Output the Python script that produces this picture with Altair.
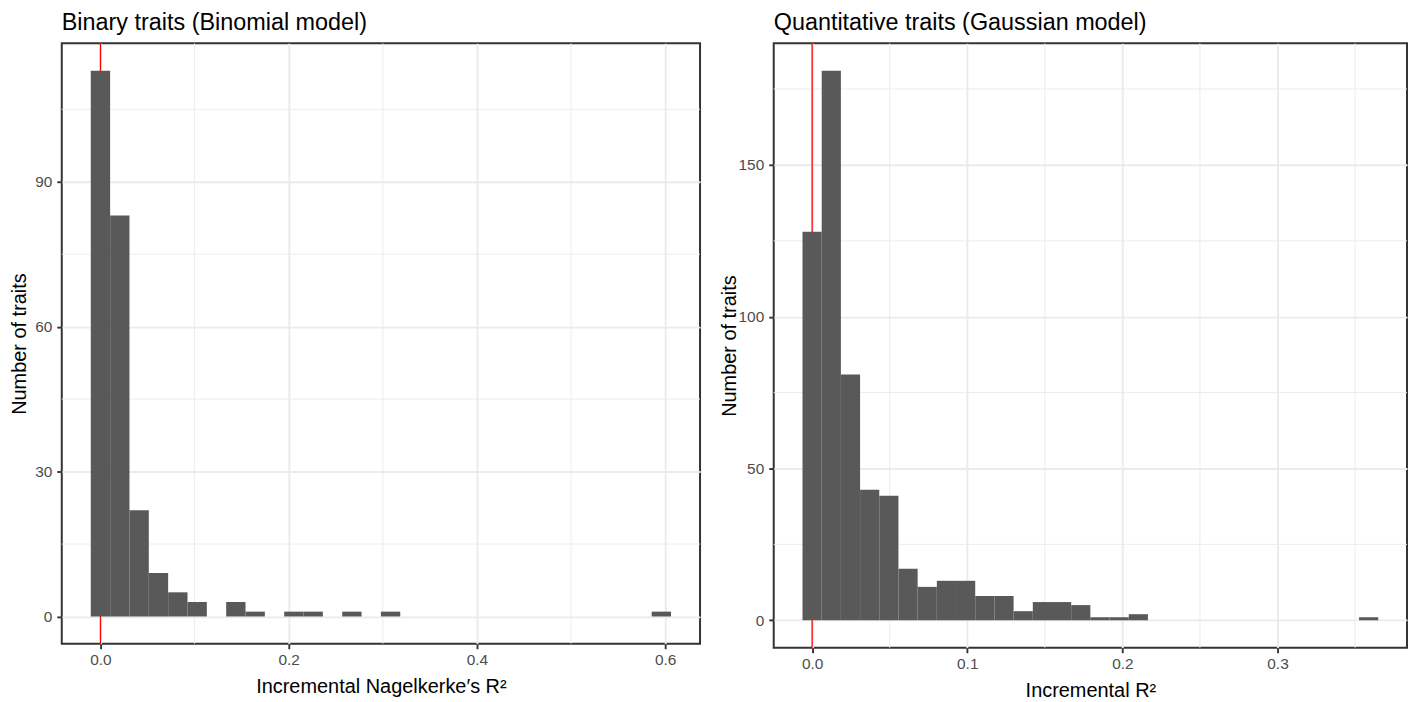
import altair as alt
import pandas as pd

# ---- data ----
binary_counts = [113, 83, 22, 9, 5, 3, 0, 3, 1, 0, 1, 1, 0, 1, 0, 1,
                 0, 0, 0, 0, 0, 0, 0, 0, 0, 0, 0, 0, 0, 1]
binary_binwidth = 0.02055
quant_counts = [128, 181, 81, 43, 41, 17, 11, 13, 13, 8, 8, 3, 6, 6, 5, 1, 1, 2,
                0, 0, 0, 0, 0, 0, 0, 0, 0, 0, 0, 1]
quant_binwidth = 0.01237

binary_xticks = [0.0, 0.2, 0.4, 0.6]
binary_xminor = [0.1, 0.3, 0.5]
binary_yticks = [0, 30, 60, 90]
binary_yminor = [15, 45, 75, 105]
quant_xticks = [0.0, 0.1, 0.2, 0.3]
quant_xminor = [0.05, 0.15, 0.25, 0.35]
quant_yticks = [0, 50, 100, 150]
quant_yminor = [25, 75, 125, 175]

binary_title = "Binary traits (Binomial model)"
quant_title = "Quantitative traits (Gaussian model)"
binary_xtitle = "Incremental Nagelkerke\u2032s R\u00b2"
quant_xtitle = "Incremental R\u00b2"
ytitle = "Number of traits"
ref_line = [0.0]

FONT = "Liberation Sans"
BAR = "#595959"
GRID = "#EBEBEB"
DARK = "#333333"


def panel(counts, w, xticks, xminor, yticks, yminor, title, xtitle,
          width, height, ytitle_x):
    n = len(counts)
    df = pd.DataFrame({
        "x0": [-w / 2 + i * w for i in range(n)],
        "x1": [w / 2 + i * w for i in range(n)],
        "count": counts,
        "base": [0] * n,
    })
    lo, hi = -w / 2, w / 2 + (n - 1) * w
    r = hi - lo
    xdom = [lo - 0.05 * r, hi + 0.05 * r]
    ymax = max(counts)
    ydom = [-0.05 * ymax, 1.05 * ymax]
    xs = alt.Scale(domain=xdom, nice=False, zero=False)
    ys = alt.Scale(domain=ydom, nice=False, zero=False)

    xaxis = alt.Axis(values=xticks, format=".1f", title=xtitle,
                     grid=True, gridColor=GRID, gridWidth=1.9, domain=False,
                     tickColor=DARK, tickWidth=1.9, tickSize=5, labelPadding=4,
                     labelFont=FONT, labelFontSize=15.5, labelColor="#4D4D4D",
                     titleFont=FONT, titleFontSize=20, titleFontWeight="normal",
                     titleColor="black", titleBaseline="alphabetic", titleY=49)
    yaxis = alt.Axis(values=yticks, format="d", title=ytitle,
                     grid=True, gridColor=GRID, gridWidth=1.9, domain=False,
                     tickColor=DARK, tickWidth=1.9, tickSize=5, labelPadding=5,
                     labelFont=FONT, labelFontSize=15.5, labelColor="#4D4D4D",
                     titleFont=FONT, titleFontSize=20, titleFontWeight="normal",
                     titleColor="black", titleAngle=270, titleAlign="center",
                     titleBaseline="middle", titleX=ytitle_x, titleY=height / 2)

    xminor_layer = alt.Chart(pd.DataFrame({"x0": xminor})).mark_rule(
        color=GRID, strokeWidth=0.95).encode(x=alt.X("x0:Q", scale=xs, axis=xaxis))
    yminor_layer = alt.Chart(pd.DataFrame({"count": yminor})).mark_rule(
        color=GRID, strokeWidth=0.95).encode(y=alt.Y("count:Q", scale=ys, axis=yaxis))
    red = alt.Chart(pd.DataFrame({"x0": ref_line})).mark_rule(
        color="#FF0000", strokeWidth=1.3).encode(x=alt.X("x0:Q", scale=xs, axis=xaxis))
    bars = alt.Chart(df).mark_rect(color=BAR).encode(
        x=alt.X("x0:Q", scale=xs, axis=xaxis),
        x2="x1:Q",
        y=alt.Y("count:Q", scale=ys, axis=yaxis),
        y2="base:Q",
    )
    return alt.layer(xminor_layer, yminor_layer, red, bars).properties(
        width=width, height=height,
        view=alt.ViewBackground(stroke=DARK, strokeWidth=2, fill="white"),
        title=alt.TitleParams(title, anchor="start", frame="group", font=FONT,
                              fontSize=23.5, fontWeight="normal", color="black",
                              baseline="alphabetic", offset=-11),
    )


left = panel(binary_counts, binary_binwidth, binary_xticks, binary_xminor,
             binary_yticks, binary_yminor, binary_title, binary_xtitle,
             641, 603, -42)
right = panel(quant_counts, quant_binwidth, quant_xticks, quant_xminor,
              quant_yticks, quant_yminor, quant_title, quant_xtitle,
              636, 607, -44)

chart = alt.hconcat(left, right, spacing=74, bounds="flush").properties(
    padding={"left": 1, "top": 0, "right": 0, "bottom": 0}
).configure_view(stroke=DARK, strokeWidth=2).configure(background="white")

chart.save("out.html", embed_options={"renderer": "svg", "actions": False})
